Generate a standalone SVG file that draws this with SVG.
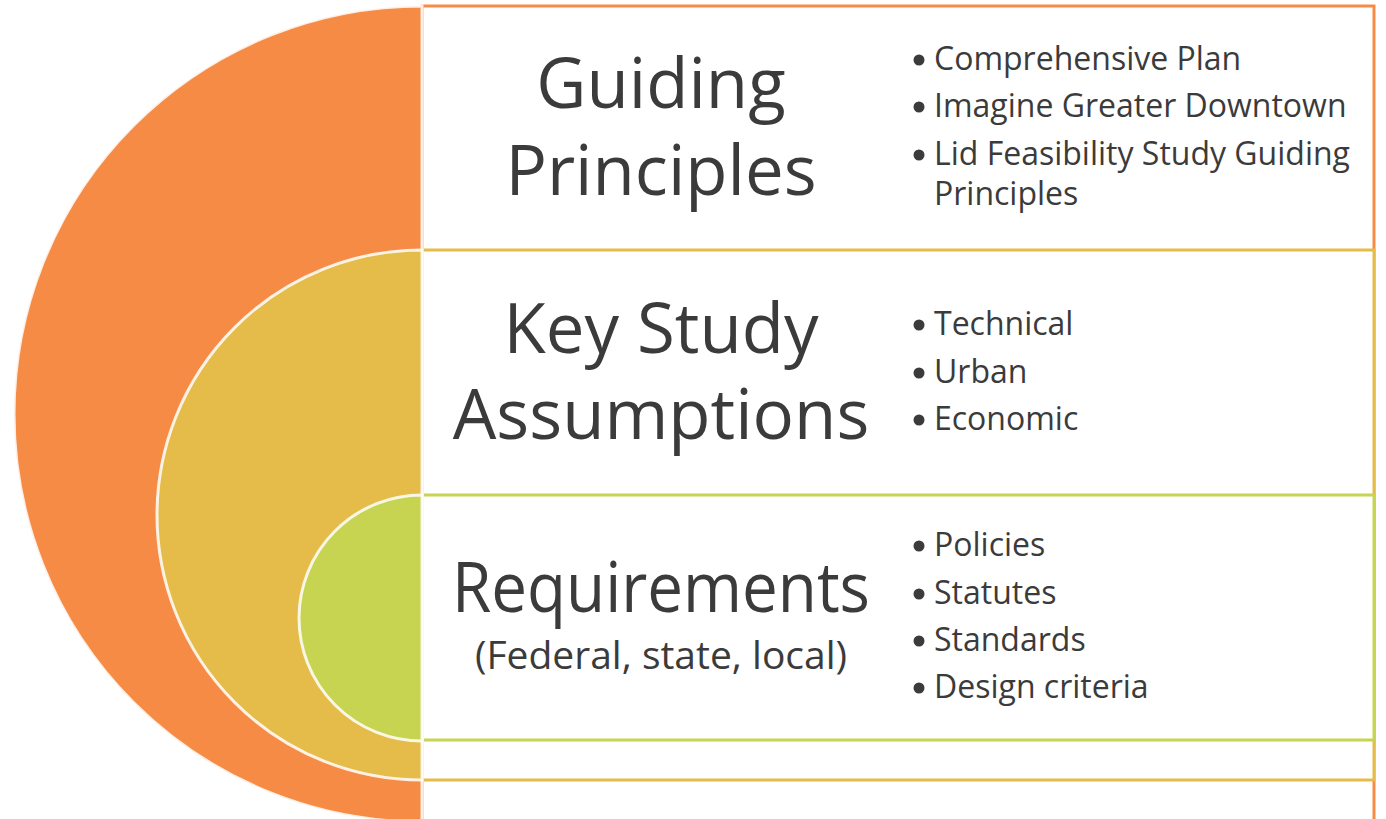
<svg xmlns="http://www.w3.org/2000/svg" width="1386" height="819" viewBox="0 0 1386 819">
<style>
.bg{fill:#ffffff}
.box{fill:#ffffff;stroke-width:3}
.semi{stroke:#ffffff;stroke-width:3;stroke-opacity:0.85}
.title{font-family:"Open Sans","Noto Sans","Liberation Sans",sans-serif;font-size:69px;fill:#3b3b3b;text-anchor:middle}
.sub{font-family:"Open Sans","Noto Sans","Liberation Sans",sans-serif;font-size:39px;fill:#3b3b3b;text-anchor:middle}
.item{font-family:"Open Sans","Noto Sans","Liberation Sans",sans-serif;font-size:32px;fill:#3b3b3b}
.dot{fill:#3b3b3b}
</style>
<rect class="bg" x="0" y="0" width="1386" height="819"/>
<g id="boxes">
<rect id="box-guiding" class="box" x="422" y="6" width="952" height="830" stroke="#F68B45"/>
<rect id="box-assumptions" class="box" x="422" y="250" width="952" height="530" stroke="#E5BC4A"/>
<rect id="box-requirements" class="box" x="422" y="495" width="952" height="245" stroke="#C6D452"/>
</g>
<g id="connectors"></g>
<g id="node-guiding">
<path class="semi" d="M422,6 A408,408 0 0 0 422,822 Z" fill="#F68B45"/>
<text class="title" x="661" y="108">Guiding</text>
<text class="title" x="661" y="195">Principles</text>
<circle class="dot" cx="919" cy="60" r="5.5"/><text class="item" x="934" y="70">Comprehensive Plan</text>
<circle class="dot" cx="919" cy="107" r="5.5"/><text class="item" x="934" y="117">Imagine Greater Downtown</text>
<circle class="dot" cx="919" cy="155" r="5.5"/><text class="item" x="934" y="165">Lid Feasibility Study Guiding</text>
<text class="item" x="934" y="205">Principles</text>
</g>
<g id="node-assumptions">
<path class="semi" d="M422,250 A265,265 0 0 0 422,780 Z" fill="#E5BC4A"/>
<text class="title" x="661" y="353">Key Study</text>
<text class="title" x="661" y="439">Assumptions</text>
<circle class="dot" cx="919" cy="325" r="5.5"/><text class="item" x="934" y="335">Technical</text>
<circle class="dot" cx="919" cy="373" r="5.5"/><text class="item" x="934" y="383">Urban</text>
<circle class="dot" cx="919" cy="420" r="5.5"/><text class="item" x="934" y="430">Economic</text>
</g>
<g id="node-requirements">
<path class="semi" d="M422,495 A123,123 0 0 0 422,741 Z" fill="#C6D452"/>
<text class="title" x="661" y="612" textLength="418" lengthAdjust="spacingAndGlyphs">Requirements</text>
<text class="sub" x="661" y="669">(Federal, state, local)</text>
<circle class="dot" cx="919" cy="546" r="5.5"/><text class="item" x="934" y="556">Policies</text>
<circle class="dot" cx="919" cy="594" r="5.5"/><text class="item" x="934" y="604">Statutes</text>
<circle class="dot" cx="919" cy="641" r="5.5"/><text class="item" x="934" y="651">Standards</text>
<circle class="dot" cx="919" cy="688" r="5.5"/><text class="item" x="934" y="698">Design criteria</text>
</g>
</svg>
